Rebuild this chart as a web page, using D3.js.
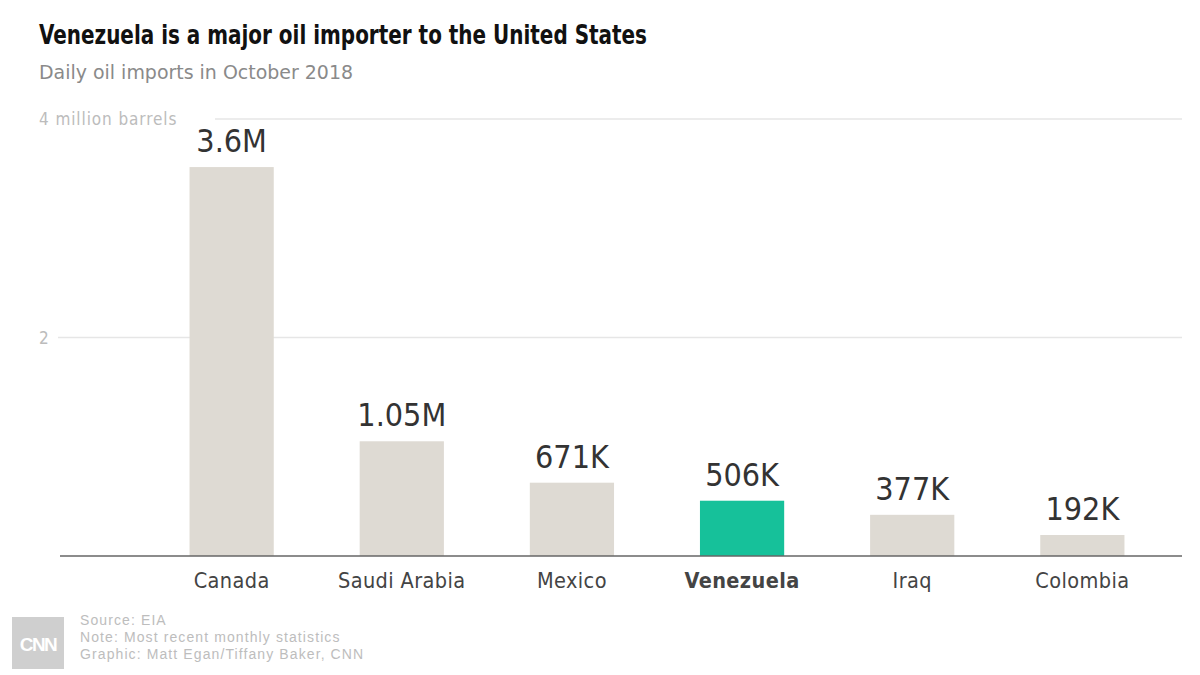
<!DOCTYPE html>
<html>
<head>
<meta charset="utf-8">
<script src="https://cdn.jsdelivr.net/npm/d3@7"></script>
<style>
  body { margin: 0; background: #fff; }
  svg { display: block; }
</style>
</head>
<body>
<script>
// Chart data (million barrels per day, October 2018)
const countries = ["Canada", "Saudi Arabia", "Mexico", "Venezuela", "Iraq", "Colombia"];
const imports = [3.56, 1.05, 0.671, 0.506, 0.377, 0.192];
const valueLabels = ["3.6M", "1.05M", "671K", "506K", "377K", "192K"];
const yTicks = [2, 4];
const highlight = "Venezuela";

const width = 1200;
const height = 675;
const condensed = "'DejaVu Sans Condensed', 'Liberation Sans Narrow', sans-serif";
const plain = "'Liberation Sans', Arial, sans-serif";

const svg = d3.select("body")
  .append("svg")
  .attr("width", width)
  .attr("height", height);

// Scales
const x = d3.scaleBand()
  .domain(countries)
  .range([147, 1167])
  .paddingInner(0.505)
  .paddingOuter(0.25);

const y = d3.scaleLinear()
  .domain([0, 4])
  .range([556, 119]);

// Title and subtitle (squeezed to the narrow face of the original)
svg.append("text")
  .attr("x", 39)
  .attr("y", 44)
  .attr("font-family", condensed)
  .attr("font-weight", "bold")
  .attr("font-size", 26)
  .attr("textLength", 608)
  .attr("lengthAdjust", "spacingAndGlyphs")
  .attr("fill", "#111")
  .text("Venezuela is a major oil importer to the United States");

svg.append("text")
  .attr("x", 39)
  .attr("y", 79)
  .attr("font-family", condensed)
  .attr("font-size", 19.5)
  .attr("textLength", 314)
  .attr("lengthAdjust", "spacingAndGlyphs")
  .attr("fill", "#8a8a8a")
  .text("Daily oil imports in October 2018");

// Gridlines
const grid = svg.append("g");
grid.selectAll("line")
  .data(yTicks)
  .enter()
  .append("line")
  .attr("x1", d => d === 4 ? 215 : 58)
  .attr("x2", 1182)
  .attr("y1", d => y(d))
  .attr("y2", d => y(d))
  .attr("stroke", "#e6e6e6")
  .attr("stroke-width", 1.5);

grid.selectAll("text")
  .data(yTicks)
  .enter()
  .append("text")
  .attr("x", 39)
  .attr("y", d => y(d) + 6)
  .attr("font-family", condensed)
  .attr("font-size", 17)
  .attr("letter-spacing", d => d === 4 ? 0.9 : 0)
  .attr("fill", "#bcbcbc")
  .text(d => d === 4 ? "4 million barrels" : d);

// Bars
svg.selectAll("rect.bar")
  .data(countries)
  .enter()
  .append("rect")
  .attr("class", "bar")
  .attr("x", d => x(d))
  .attr("y", (d, i) => y(imports[i]))
  .attr("width", x.bandwidth())
  .attr("height", (d, i) => y(0) - y(imports[i]))
  .attr("fill", d => d === highlight ? "#16c19a" : "#dedad3");

// Value labels above bars
svg.selectAll("text.value")
  .data(countries)
  .enter()
  .append("text")
  .attr("class", "value")
  .attr("x", d => x(d) + x.bandwidth() / 2)
  .attr("y", (d, i) => y(imports[i]) - 15)
  .attr("text-anchor", "middle")
  .attr("font-family", condensed)
  .attr("font-size", 32)
  .attr("fill", "#333")
  .text((d, i) => valueLabels[i]);

// Baseline
svg.append("line")
  .attr("x1", 60)
  .attr("x2", 1182)
  .attr("y1", y(0))
  .attr("y2", y(0))
  .attr("stroke", "#666")
  .attr("stroke-width", 1.5);

// Category axis
const xAxis = svg.append("g")
  .attr("transform", `translate(0, ${y(0)})`)
  .call(d3.axisBottom(x).tickSize(0).tickPadding(17));

xAxis.select(".domain").remove();
xAxis.selectAll("text")
  .attr("font-family", condensed)
  .attr("font-size", 21.5)
  .attr("letter-spacing", 0.4)
  .attr("fill", "#444")
  .attr("font-weight", d => d === highlight ? "bold" : "normal");

// Footer: logo and credits
const footer = svg.append("g");
footer.append("rect")
  .attr("x", 12)
  .attr("y", 617)
  .attr("width", 52)
  .attr("height", 52)
  .attr("fill", "#cfcfcf");

footer.append("text")
  .attr("x", 38)
  .attr("y", 651)
  .attr("text-anchor", "middle")
  .attr("font-family", plain)
  .attr("font-weight", "bold")
  .attr("font-size", 19)
  .attr("letter-spacing", -1.5)
  .attr("fill", "#fff")
  .text("CNN");

const credits = [
  "Source: EIA",
  "Note: Most recent monthly statistics",
  "Graphic: Matt Egan/Tiffany Baker, CNN"
];
footer.selectAll("text.credit")
  .data(credits)
  .enter()
  .append("text")
  .attr("class", "credit")
  .attr("x", 80)
  .attr("y", (d, i) => 625 + i * 17)
  .attr("font-family", plain)
  .attr("font-size", 14)
  .attr("letter-spacing", 1.1)
  .attr("fill", "#bdbdbd")
  .text(d => d);
</script>
</body>
</html>
